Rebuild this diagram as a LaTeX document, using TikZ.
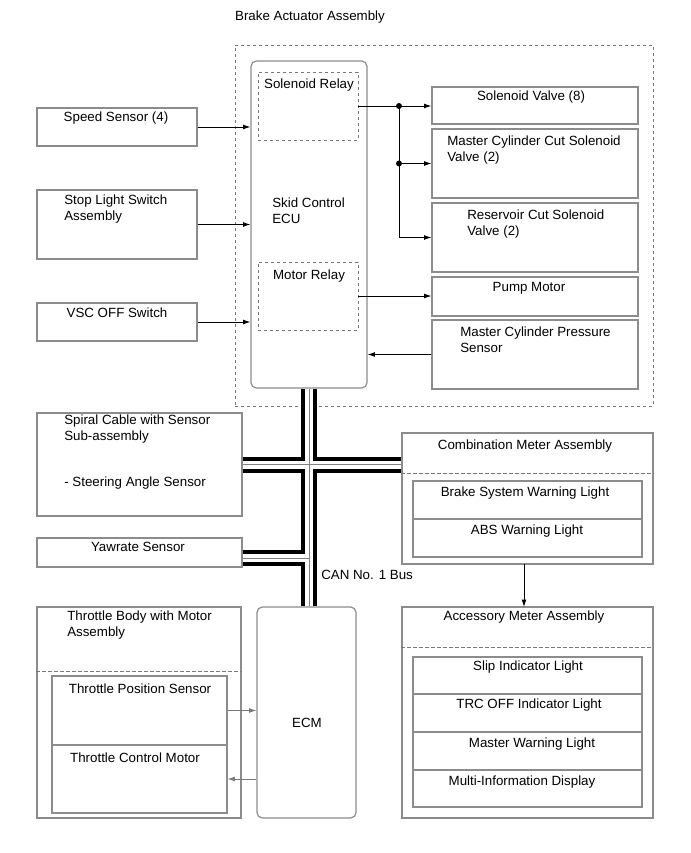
\documentclass[tikz,border=0pt]{standalone}
\usepackage{fontspec}
\setmainfont{Liberation Sans}
\usetikzlibrary{fit,arrows.meta,calc}
\definecolor{bordergray}{RGB}{140,140,140}
\definecolor{dashgray}{RGB}{120,120,120}
\definecolor{cablemid}{RGB}{130,130,130}
\begin{document}
\begin{tikzpicture}[x=0.75pt,y=-0.75pt,
  font=\fontsize{10}{12}\selectfont,
  box/.style={draw=bordergray,line width=0.9pt,inner sep=0pt},
  rbox/.style={box,rounded corners=4pt},
  dbox/.style={draw=dashgray,line width=0.6pt,dash pattern=on 2.5pt off 2pt,inner sep=0pt},
  lbl/.style={inner sep=0pt,anchor=center},
  lblw/.style={inner sep=0pt,anchor=west,align=left},
  arr/.style={draw=black,line width=0.6pt,-{Latex[length=5.5pt,width=3.6pt]}},
  dline/.style={draw=dashgray,line width=0.6pt,dash pattern=on 2.5pt off 2pt},
  cableA/.style={draw=black,line width=12pt},
  cableB/.style={draw=white,line width=6pt},
  cableC/.style={draw=cablemid,line width=0.7pt},
  dot/.style={circle,fill=black,inner sep=0pt,minimum size=4.5pt}
]
\useasboundingbox (0,0) rectangle (690,853);

% Brake actuator assembly
\node[lbl] (title) at (310,17) {Brake Actuator Assembly};
\node[dbox,fit={(235,45) (653,406)}] (bigbox) {};
\node[rbox,fit={(251,61) (367,388)}] (ecu) {};
\node[dbox,fit={(258,72) (358,140)}] (sr) {};
\node[dbox,fit={(258,262) (358,330)}] (mr) {};
\node[lbl] (srt) at (309,85) {Solenoid Relay};
\node[lblw] (ecut) at (272,211) {Skid Control\\ECU};
\node[lbl] (mrt) at (309,276) {Motor Relay};

\node[box,fit={(432,87) (638,124)}] (sv) {};
\node[box,fit={(432,129) (638,198)}] (mcc) {};
\node[box,fit={(432,203) (638,272)}] (rc) {};
\node[box,fit={(432,277) (638,316)}] (pm) {};
\node[box,fit={(432,320) (638,389)}] (mcps) {};
\node[lbl] (svt) at (531,97) {Solenoid Valve (8)};
\node[lblw] (mcct) at (447,150) {Master Cylinder Cut Solenoid\\Valve (2)};
\node[lblw] (rct) at (467,224) {Reservoir Cut Solenoid\\Valve (2)};
\node[lbl] (pmt) at (529,288) {Pump Motor};
\node[lblw] (mcpst) at (460,340) {Master Cylinder Pressure\\Sensor};

% left inputs
\node[box,fit={(37,108) (197,146)}] (spd) {};
\node[box,fit={(37,190) (197,259)}] (sls) {};
\node[box,fit={(37,303) (197,341)}] (vsc) {};
\node[lbl] (spdt) at (116,118) {Speed Sensor (4)};
\node[lblw] (slst) at (64,209) {Stop Light Switch\\Assembly};
\node[lbl] (vsct) at (117,313) {VSC OFF Switch};

\node[box,fit={(37,413) (242,516)}] (sc) {};
\node[lblw] (sct) at (64,429) {Spiral Cable with Sensor\\Sub-assembly};
\node[lblw] (sct2) at (64,483) {- Steering Angle Sensor};
\node[box,fit={(37,538) (242,567)}] (yaw) {};
\node[lbl] (yawt) at (138,547) {Yawrate Sensor};

% throttle body
\node[box,fit={(37,607) (241,818)}] (tb) {};
\node[lblw] (tbt) at (67,625) {Throttle Body with Motor\\Assembly};
\node[box,fit={(52,676) (227,745)}] (tps) {};
\node[box,fit={(52,745) (227,813)}] (tcm) {};
\node[lbl] (tpst) at (140,689) {Throttle Position Sensor};
\node[lbl] (tcmt) at (135,758) {Throttle Control Motor};

% ECM
\node[rbox,fit={(257,607) (356,818)}] (ecm) {};
\node[lbl] (ecmt) at (307,723) {ECM};

% combination meter
\node[box,fit={(402,433) (653,564)}] (cma) {};
\node[lbl] (cmat) at (525,446) {Combination Meter Assembly};
\node[box,fit={(413,481) (642,519)}] (cm1) {};
\node[box,fit={(413,519) (642,557)}] (cm2) {};
\node[lbl] (cm1t) at (525,493) {Brake System Warning Light};
\node[lbl] (cm2t) at (527,531) {ABS Warning Light};

% accessory meter
\node[box,fit={(402,607) (653,818)}] (ama) {};
\node[lbl] (amat) at (524,617) {Accessory Meter Assembly};
\node[box,fit={(413,657) (642,694)}] (a1) {};
\node[box,fit={(413,694) (642,732)}] (a2) {};
\node[box,fit={(413,732) (642,770)}] (a3) {};
\node[box,fit={(413,770) (642,807)}] (a4) {};
\node[lbl] (a1t) at (528,667) {Slip Indicator Light};
\node[lbl] (a2t) at (529,705) {TRC OFF Indicator Light};
\node[lbl] (a3t) at (532,744) {Master Warning Light};
\node[lbl] (a4t) at (522,782) {Multi-Information Display};

% dashed dividers
\draw[dline] (cma.west |- 0,473) -- (cma.east |- 0,473);
\draw[dline] (ama.west |- 0,647) -- (ama.east |- 0,647);
\draw[dline] (tb.west |- 0,671) -- (tb.east |- 0,671);

% arrows into ECU
\draw[arr] (spd.east) -- (spd.east -| ecu.west);
\draw[arr] (sls.east) -- (sls.east -| ecu.west);
\draw[arr] (vsc.east) -- (vsc.east -| ecu.west);

% solenoid relay outputs
\coordinate (b0) at (399,0);
\node[dot] (d1) at (b0 |- sr.east) {};
\node[dot] (d2) at (b0 |- mcc.west) {};
\coordinate (c3) at (b0 |- rc.west);
\draw[arr] (sr.east) -- (sv.west |- sr.east);
\draw[arr] (d2.center) -- (mcc.west);
\draw[arr,line join=miter] (d1.center) -- (c3) -- (rc.west);
\draw[arr] (mr.east) -- (mr.east -| pm.west);
\draw[arr] (mcps.west) -- (mcps.west -| ecu.east);

% throttle arrows
\draw[arr,draw=dashgray] (tps.east) -- (tps.east -| ecm.west);
\draw[arr,draw=dashgray] (tcm.east -| ecm.west) -- (tcm.east);

% meter arrow
\draw[arr] (524,564) -- (524,607);

% CAN bus
\coordinate (j2) at (ecu.south |- 0,558);
\foreach \st in {cableA,cableB,cableC}{
  \draw[\st] (ecu.south) -- (ecu.south |- ecm.north);
  \draw[\st] (sc.east) -- (sc.east -| cma.west);
  \draw[\st] (yaw.east |- j2) -- (j2);
}
\node[lblw] (cant) at (321,575) {CAN No. 1 Bus};
\end{tikzpicture}
\end{document}
